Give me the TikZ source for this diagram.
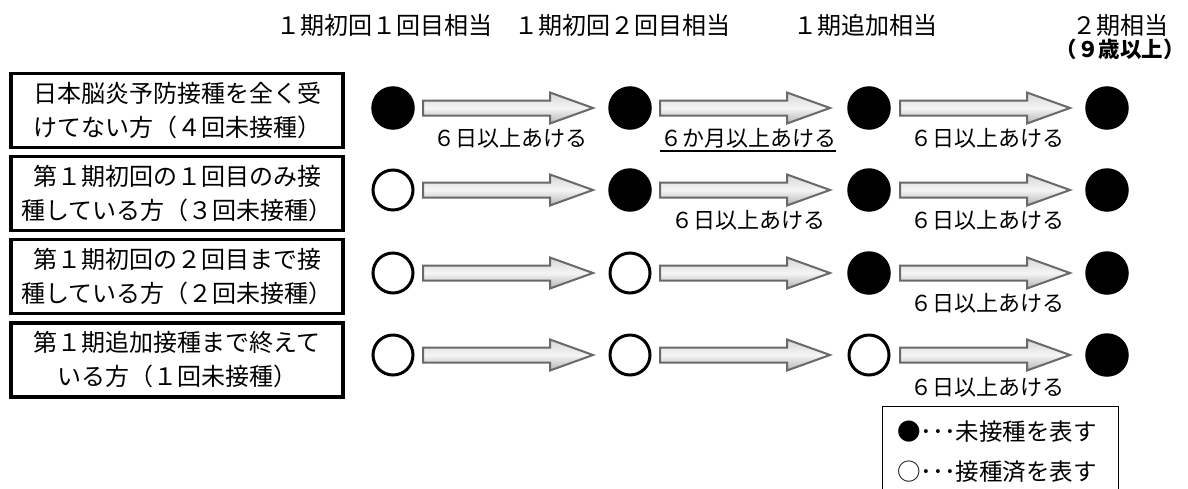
\documentclass[tikz,border=0pt]{standalone}
\usepackage{fontspec}
\setmainfont{Noto Sans CJK JP}
\usetikzlibrary{calc}
\definecolor{arrline}{RGB}{105,105,105}
\begin{document}
\begin{tikzpicture}[x=1pt,y=-1pt,
  casebox/.style={draw, line width=3.5pt, minimum width=332pt, minimum height=74pt, inner sep=0pt, align=center, font=\fontsize{24}{34}\selectfont},
  todo/.style={circle, draw, fill=black, line width=2.5pt, minimum size=41pt, inner sep=0pt},
  done/.style={circle, draw, fill=white, line width=3pt, minimum size=40pt, inner sep=0pt},
  gaplbl/.style={font=\fontsize{22}{26}\selectfont, inner sep=0pt},
  headlbl/.style={font=\fontsize{24}{28}\selectfont, inner sep=0pt},
  legtxt/.style={font=\fontsize{23.5}{27}\selectfont, inner sep=0pt, anchor=west},
  blockarr/.pic={\path[draw=arrline, line width=2pt, top color=gray!32, bottom color=gray!58, middle color=gray!8]
     (0,-7.5) -- (127,-7.5) -- (127,-15.5) -- (170,0) -- (127,15.5) -- (127,7.5) -- (0,7.5) -- cycle;}
]
\useasboundingbox (0,0) rectangle (1188,488);
\clip (0,0) rectangle (1188,488);

% headers
\node[headlbl] (h1) at (384,25) {１期初回１回目相当};
\node[headlbl] (h2) at (622,25) {１期初回２回目相当};
\node[headlbl] (h3) at (865,25) {１期追加相当};
\node[headlbl] (h4) at (1120,25) {２期相当};
\node[font=\fontsize{21.5}{26}\selectfont\bfseries, inner sep=0pt] (h5) at (1120,49) {（９歳以上）};

% case boxes
\node[casebox] (b1) at (177,110.5) {日本脳炎予防接種を全く受\\けてない方（４回未接種）};
\node[casebox] (b2) at (177,193.5) {第１期初回の１回目のみ接\\種している方（３回未接種）};
\node[casebox] (b3) at (177,276.5) {第１期初回の２回目まで接\\種している方（２回未接種）};
\node[casebox] (b4) at (177,360) {第１期追加接種まで終えて\\いる方（１回未接種）};

% circles
\node[todo] (c11) at (393,108) {};
\node[todo] (c12) at (630,108) {};
\node[todo] (c13) at (869,108) {};
\node[todo] (c14) at (1107,108) {};
\node[done] (c21) at (393,190) {};
\node[todo] (c22) at (630,190) {};
\node[todo] (c23) at (869,190) {};
\node[todo] (c24) at (1107,190) {};
\node[done] (c31) at (393,273) {};
\node[done] (c32) at (630,273) {};
\node[todo] (c33) at (869,273) {};
\node[todo] (c34) at (1107,273) {};
\node[done] (c41) at (393,355) {};
\node[done] (c42) at (630,355) {};
\node[done] (c43) at (869,355) {};
\node[todo] (c44) at (1107,355) {};

% block arrows
\foreach \r in {1,2,3,4}{
  \pic at ($(c\r1)+(30,0)$) {blockarr};
  \pic at ($(c\r2)+(30,0)$) {blockarr};
  \pic at ($(c\r3)+(31,0)$) {blockarr};
}

% interval labels
\node[gaplbl] (l11) at (510,138) {６日以上あける};
\node[gaplbl] (l12) at (748,138) {６か月以上あける};
\draw[line width=2.4pt] ([yshift=-5pt]l12.base west) -- ([yshift=-5pt]l12.base east);
\node[gaplbl] (l13) at (987,138) {６日以上あける};
\node[gaplbl] (l22) at (748,220) {６日以上あける};
\node[gaplbl] (l23) at (987,220) {６日以上あける};
\node[gaplbl] (l33) at (987,303) {６日以上あける};
\node[gaplbl] (l43) at (987,387) {６日以上あける};

% legend
\node[draw, line width=1.3pt, minimum width=236pt, minimum height=92pt, inner sep=0pt, anchor=north west] (legend) at (882,406) {};
\node[legtxt] (lg1) at (897,432) {●･･･未接種を表す};
\node[legtxt] (lg2) at (897,472) {○･･･接種済を表す};
\end{tikzpicture}
\end{document}
